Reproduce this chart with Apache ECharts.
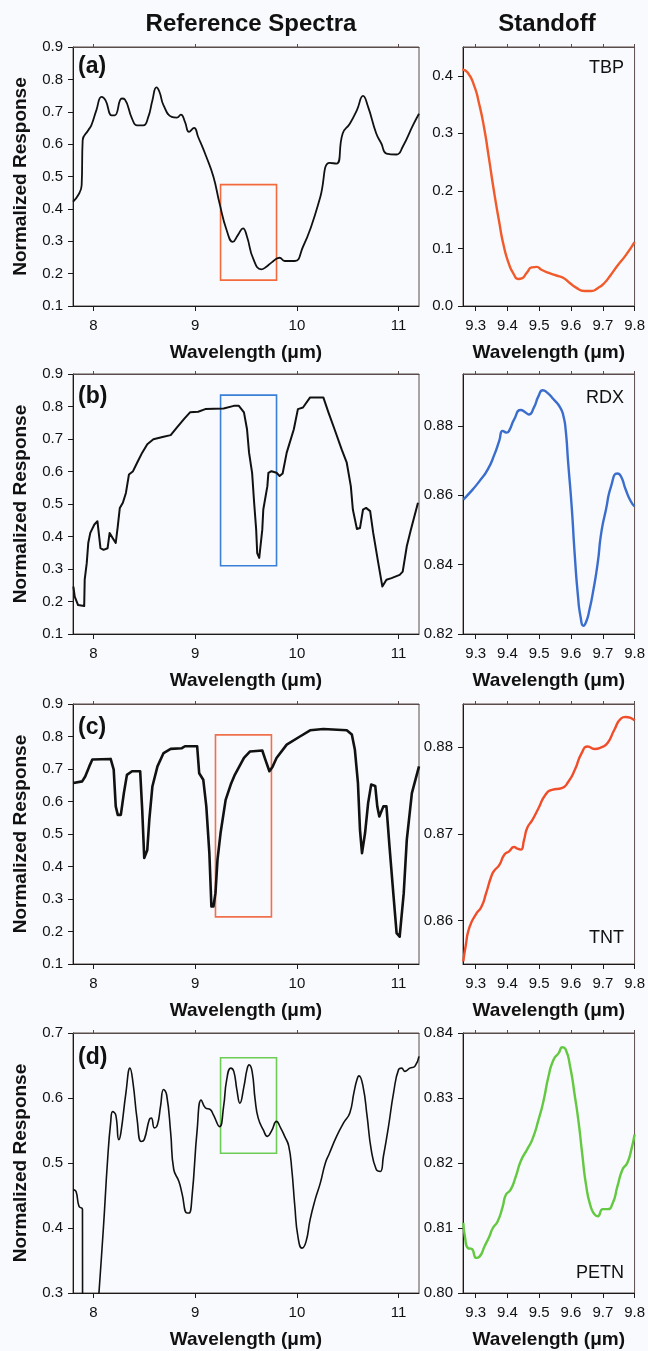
<!DOCTYPE html>
<html>
<head>
<meta charset="utf-8">
<script src="https://cdn.jsdelivr.net/npm/echarts@6/dist/echarts.min.js"></script>
<style>
html,body{margin:0;padding:0;background:#f9fafd;}
#chart{width:648px;height:1351px;}
</style>
</head>
<body>
<div id="chart"></div>
<script>
// ---------------- DATA ----------------
// Tick labels
const refWlTicks = [8, 9, 10, 11];
const standoffWlTicks = [9.3, 9.4, 9.5, 9.6, 9.7, 9.8];
const refYTicksABC = [0.1, 0.2, 0.3, 0.4, 0.5, 0.6, 0.7, 0.8, 0.9];
const refYTicksD = [0.3, 0.4, 0.5, 0.6, 0.7];
const tbpYTicks = [0.0, 0.1, 0.2, 0.3, 0.4];
const rdxYTicks = [0.82, 0.84, 0.86, 0.88];
const tntYTicks = [0.86, 0.87, 0.88];
const petnYTicks = [0.80, 0.81, 0.82, 0.83, 0.84];

// (a) TBP reference spectrum
const refA_x = [7.80,7.85,7.885,7.895,7.95,7.98,8.03,8.08,8.12,8.18,8.21,8.28,8.31,8.38,8.43,8.49,8.54,8.58,8.62,8.65,8.69,8.77,8.82,8.86,8.90,8.94,8.99,9.03,9.11,9.18,9.24,9.31,9.37,9.42,9.47,9.51,9.57,9.65,9.70,9.75,9.83,9.88,9.98,10.06,10.14,10.23,10.32,10.39,10.45,10.52,10.59,10.65,10.70,10.78,10.83,10.88,10.98,11.04,11.14,11.20];
const refA_y = [0.422,0.442,0.473,0.612,0.643,0.658,0.705,0.746,0.735,0.689,0.689,0.741,0.738,0.679,0.658,0.658,0.684,0.735,0.775,0.761,0.720,0.684,0.682,0.691,0.669,0.638,0.650,0.622,0.561,0.499,0.417,0.334,0.298,0.319,0.340,0.314,0.247,0.213,0.221,0.234,0.249,0.239,0.239,0.283,0.345,0.437,0.542,0.540,0.633,0.663,0.705,0.749,0.715,0.633,0.602,0.571,0.568,0.592,0.658,0.694];
// (a) TBP standoff
const tbp_x = [9.258,9.274,9.295,9.31,9.326,9.341,9.357,9.373,9.388,9.404,9.419,9.435,9.445,9.461,9.476,9.492,9.507,9.528,9.554,9.575,9.596,9.616,9.642,9.663,9.684,9.705,9.725,9.746,9.772,9.80];
const tbp_y = [0.411,0.406,0.383,0.353,0.311,0.259,0.201,0.149,0.105,0.074,0.056,0.047,0.048,0.058,0.067,0.068,0.063,0.058,0.053,0.049,0.040,0.032,0.026,0.026,0.031,0.040,0.054,0.070,0.088,0.111];

// (b) RDX reference spectrum
const refB_x = [7.804,7.817,7.85,7.91,7.915,7.935,7.95,7.97,8.01,8.04,8.055,8.07,8.10,8.14,8.16,8.19,8.22,8.24,8.26,8.29,8.32,8.35,8.39,8.43,8.48,8.53,8.59,8.69,8.76,8.82,8.89,8.95,9.03,9.10,9.28,9.38,9.43,9.48,9.51,9.53,9.56,9.58,9.60,9.61,9.63,9.66,9.67,9.71,9.72,9.75,9.80,9.83,9.86,9.90,9.97,10.01,10.06,10.13,10.26,10.31,10.37,10.44,10.49,10.53,10.55,10.59,10.62,10.65,10.68,10.72,10.75,10.80,10.84,10.88,10.93,11.01,11.04,11.08,11.12,11.19];
const refB_y = [0.246,0.215,0.189,0.186,0.267,0.318,0.380,0.411,0.437,0.447,0.444,0.364,0.359,0.364,0.411,0.395,0.380,0.431,0.488,0.504,0.534,0.591,0.601,0.627,0.658,0.684,0.699,0.707,0.712,0.735,0.761,0.782,0.784,0.792,0.794,0.802,0.802,0.782,0.730,0.658,0.596,0.504,0.421,0.349,0.334,0.421,0.483,0.555,0.596,0.601,0.596,0.586,0.594,0.658,0.730,0.792,0.797,0.828,0.828,0.782,0.730,0.668,0.627,0.555,0.483,0.423,0.426,0.483,0.488,0.478,0.411,0.318,0.246,0.267,0.272,0.282,0.292,0.370,0.421,0.504];
// (b) RDX standoff
const rdx_x = [9.261,9.281,9.312,9.338,9.359,9.374,9.385,9.397,9.405,9.421,9.442,9.457,9.467,9.483,9.498,9.511,9.524,9.545,9.566,9.576,9.583,9.591,9.602,9.612,9.622,9.630,9.639,9.648,9.658,9.669,9.684,9.695,9.710,9.726,9.746,9.757,9.772,9.788,9.80];
const rdx_y = [0.8588,0.8607,0.8641,0.8675,0.8718,0.8757,0.8786,0.8781,0.8786,0.8819,0.8846,0.8839,0.8833,0.8853,0.8887,0.8903,0.8897,0.8877,0.8853,0.8829,0.8790,0.8694,0.8568,0.8424,0.8308,0.8250,0.8224,0.8236,0.8270,0.8320,0.8405,0.8491,0.8559,0.8626,0.8663,0.8655,0.8617,0.8583,0.8568];

// (c) TNT reference spectrum
const refC_x = [7.804,7.89,7.92,7.96,7.99,8.17,8.20,8.22,8.24,8.27,8.30,8.33,8.38,8.46,8.48,8.50,8.53,8.55,8.58,8.63,8.69,8.76,8.87,8.90,9.02,9.04,9.08,9.11,9.14,9.16,9.18,9.20,9.22,9.25,9.30,9.35,9.39,9.48,9.54,9.66,9.69,9.73,9.76,9.80,9.90,10.03,10.13,10.26,10.49,10.54,10.57,10.60,10.62,10.64,10.67,10.70,10.73,10.77,10.79,10.81,10.85,10.88,10.91,10.95,10.98,11.01,11.05,11.08,11.13,11.20];
const refC_y = [0.657,0.662,0.677,0.708,0.729,0.731,0.698,0.585,0.559,0.559,0.626,0.682,0.693,0.693,0.575,0.426,0.451,0.544,0.646,0.708,0.749,0.762,0.764,0.770,0.770,0.687,0.667,0.585,0.441,0.277,0.277,0.318,0.421,0.503,0.605,0.652,0.682,0.734,0.754,0.757,0.729,0.693,0.706,0.734,0.775,0.800,0.819,0.823,0.819,0.806,0.759,0.657,0.513,0.441,0.503,0.595,0.652,0.648,0.585,0.554,0.585,0.585,0.462,0.308,0.195,0.184,0.318,0.482,0.626,0.708];
// (c) TNT standoff
const tnt_x = [9.261,9.268,9.281,9.302,9.318,9.333,9.349,9.359,9.374,9.39,9.405,9.421,9.431,9.442,9.452,9.462,9.478,9.498,9.519,9.540,9.571,9.591,9.612,9.633,9.653,9.674,9.695,9.715,9.736,9.757,9.772,9.80];
const tnt_y = [0.8553,0.8570,0.8593,0.8608,0.8616,0.8632,0.8651,0.8658,0.8664,0.8676,0.8680,0.8685,0.8683,0.8682,0.8693,0.8707,0.8716,0.8730,0.8745,0.8751,0.8753,0.8760,0.8774,0.8793,0.8801,0.8798,0.8800,0.8805,0.8820,0.8833,0.8835,0.8831];

// (d) PETN reference spectrum (drops below the axis floor near 7.9-8.05)
const refD_x = [7.804,7.83,7.86,7.893,7.895,7.99,8.055,8.10,8.14,8.17,8.19,8.22,8.25,8.27,8.32,8.36,8.39,8.43,8.47,8.50,8.55,8.57,8.60,8.63,8.66,8.69,8.72,8.76,8.79,8.84,8.87,8.92,8.94,8.97,9.02,9.06,9.10,9.15,9.18,9.24,9.28,9.31,9.35,9.38,9.41,9.44,9.48,9.51,9.53,9.56,9.59,9.62,9.67,9.71,9.75,9.80,9.84,9.88,9.92,9.95,9.98,10.01,10.05,10.09,10.13,10.18,10.23,10.28,10.32,10.39,10.46,10.52,10.56,10.59,10.61,10.65,10.69,10.73,10.78,10.82,10.85,10.90,10.95,11.00,11.03,11.06,11.11,11.16,11.20];
const refD_y = [0.459,0.456,0.433,0.429,0.15,0.15,0.300,0.403,0.505,0.562,0.579,0.574,0.536,0.546,0.608,0.646,0.623,0.567,0.533,0.536,0.567,0.569,0.554,0.559,0.587,0.613,0.605,0.546,0.490,0.472,0.454,0.423,0.423,0.449,0.551,0.597,0.585,0.582,0.574,0.556,0.587,0.628,0.646,0.641,0.613,0.592,0.618,0.644,0.651,0.641,0.597,0.569,0.551,0.541,0.549,0.564,0.554,0.541,0.526,0.490,0.433,0.387,0.369,0.379,0.413,0.444,0.469,0.500,0.515,0.541,0.562,0.577,0.608,0.628,0.634,0.618,0.572,0.521,0.490,0.487,0.510,0.556,0.608,0.644,0.646,0.641,0.646,0.649,0.664];
// (d) PETN standoff
const petn_x = [9.261,9.266,9.276,9.287,9.302,9.312,9.328,9.343,9.354,9.369,9.385,9.395,9.410,9.426,9.442,9.462,9.478,9.498,9.514,9.529,9.545,9.561,9.573,9.583,9.597,9.612,9.624,9.635,9.648,9.662,9.674,9.684,9.700,9.715,9.731,9.746,9.762,9.777,9.790,9.80];
const petn_y = [0.8108,0.8087,0.8069,0.8068,0.8054,0.8056,0.8072,0.8087,0.8100,0.8110,0.8133,0.8151,0.8159,0.8179,0.8203,0.8221,0.8236,0.8267,0.8297,0.8333,0.8359,0.8369,0.8378,0.8375,0.8349,0.8303,0.8262,0.8215,0.8164,0.8133,0.8121,0.8118,0.8129,0.8129,0.8138,0.8164,0.8190,0.8200,0.8221,0.8244];

// Zoom boxes on reference spectra: [xStart, xEnd, yLow, yHigh]
const boxA = [9.25, 9.80, 0.18, 0.475];
const boxB = [9.25, 9.80, 0.31, 0.835];
const boxC = [9.20, 9.75, 0.245, 0.805];
const boxD = [9.25, 9.80, 0.515, 0.662];

const panelLabels = ['(a)', '(b)', '(c)', '(d)'];
const compoundNames = ['TBP', 'RDX', 'TNT', 'PETN'];
const columnTitles = ['Reference Spectra', 'Standoff'];

// ---------------- BUILD ----------------
const zip = (xs, ys) => xs.map((x, i) => [x, ys[i]]);
const FONT = 'Liberation Sans, Arial, Helvetica, sans-serif';
const BG = '#f9fafd';

const panels = [
  {top: 47, h: 259, refX: refA_x, refY: refA_y, refW: 1.8, yMin: 0.1, yMax: 0.9, yTicks: refYTicksABC, dec: 1,
   sX: tbp_x, sY: tbp_y, sMin: 0, sMax: 0.45, sTicks: tbpYTicks, sDec: 1, color: '#f15a2b', box: boxA, boxColor: '#f36b3c',
   labY: 55, nameY: 59},
  {top: 374, h: 260, refX: refB_x, refY: refB_y, refW: 2, yMin: 0.1, yMax: 0.9, yTicks: refYTicksABC, dec: 1,
   sX: rdx_x, sY: rdx_y, sMin: 0.82, sMax: 0.895, sTicks: rdxYTicks, sDec: 2, color: '#3a6dcc', box: boxB, boxColor: '#3a7fd8',
   labY: 385, nameY: 389},
  {top: 704, h: 260, refX: refC_x, refY: refC_y, refW: 2.6, yMin: 0.1, yMax: 0.9, yTicks: refYTicksABC, dec: 1,
   sX: tnt_x, sY: tnt_y, sMin: 0.855, sMax: 0.885, sTicks: tntYTicks, sDec: 2, color: '#f04e2a', box: boxC, boxColor: '#f0704e',
   labY: 716, nameY: 929},
  {top: 1033, h: 260, refX: refD_x, refY: refD_y, refW: 1.6, yMin: 0.3, yMax: 0.7, yTicks: refYTicksD, dec: 1,
   sX: petn_x, sY: petn_y, sMin: 0.80, sMax: 0.84, sTicks: petnYTicks, sDec: 2, color: '#62c940', box: boxD, boxColor: '#6dcc55',
   labY: 1046, nameY: 1264}
];

const grids = [], xAxes = [], yAxes = [], series = [], graphics = [];
const AXIS_COLOR = '#1a1a1a';
const FRAME_COLOR = '#5a4c4a';

function addPanel(left, width, top, h, xMin, xMax, xTicks, yMin, yMax, yTicks, dec, yName) {
  const gi = grids.length;
  grids.push({left: left, top: top, width: width, height: h, show: true, borderColor: FRAME_COLOR, borderWidth: 1, backgroundColor: 'transparent'});
  const lab = {color: '#111', fontSize: 15, fontFamily: FONT};
  xAxes.push({type: 'value', gridIndex: gi, position: 'bottom', min: xMin, max: xMax,
    axisLine: {show: true, onZero: false, lineStyle: {color: AXIS_COLOR, width: 1}},
    axisTick: {show: true, inside: false, length: 5, customValues: xTicks, lineStyle: {color: AXIS_COLOR}},
    axisLabel: Object.assign({customValues: xTicks, margin: 12, formatter: v => (xTicks[0] < 9 ? String(v) : v.toFixed(1))}, lab),
    splitLine: {show: false},
    name: 'Wavelength (\u03bcm)', nameLocation: 'middle', nameGap: 37,
    nameTextStyle: {fontSize: 19, fontWeight: 'bold', color: '#111', fontFamily: FONT}});
  xAxes.push({type: 'value', gridIndex: gi, position: 'top', min: xMin, max: xMax,
    axisLine: {show: true, onZero: false, lineStyle: {color: FRAME_COLOR, width: 1}},
    axisTick: {show: true, inside: false, length: 3, customValues: xTicks, lineStyle: {color: FRAME_COLOR}},
    axisLabel: {show: false}, splitLine: {show: false}});
  yAxes.push({type: 'value', gridIndex: gi, position: 'left', min: yMin, max: yMax,
    axisLine: {show: true, onZero: false, lineStyle: {color: AXIS_COLOR, width: 1}},
    axisTick: {show: true, inside: false, length: 5, customValues: yTicks, lineStyle: {color: AXIS_COLOR}},
    axisLabel: Object.assign({customValues: yTicks, margin: 10, formatter: v => v.toFixed(dec)}, lab),
    splitLine: {show: false},
    name: yName || '', nameLocation: 'middle', nameGap: 43, nameRotate: 90,
    nameTextStyle: {fontSize: 19, fontWeight: 'bold', color: '#111', fontFamily: FONT}});
  return gi;
}

panels.forEach((p, k) => {
  const gL = addPanel(73, 346, p.top, p.h, 7.8, 11.2, refWlTicks, p.yMin, p.yMax, p.yTicks, p.dec, 'Normalized Response');
  series.push({type: 'line', xAxisIndex: 2 * gL, yAxisIndex: gL, data: zip(p.refX, p.refY), showSymbol: false, symbol: 'none',
    smooth: (k === 1 || k === 2) ? false : 0.5, clip: true,
    lineStyle: {color: '#111', width: p.refW, join: 'round'}, z: 3,
    markArea: {silent: true, itemStyle: {color: 'rgba(0,0,0,0)', borderColor: p.boxColor, borderWidth: 1.6},
      data: [[{coord: [p.box[0], p.box[3]]}, {coord: [p.box[1], p.box[2]]}]]}});
  const gR = addPanel(463, 174, p.top, p.h, 9.26, 9.8, standoffWlTicks, p.sMin, p.sMax, p.sTicks, p.sDec, '');
  series.push({type: 'line', xAxisIndex: 2 * gR, yAxisIndex: gR, data: zip(p.sX, p.sY), showSymbol: false, symbol: 'none',
    smooth: 0.6, clip: true, lineStyle: {color: p.color, width: 2.4, join: 'round'}, z: 3});
  graphics.push({type: 'text', x: 78, y: p.labY, style: {text: panelLabels[k], font: 'bold 23px ' + FONT, fill: '#111'}});
  graphics.push({type: 'text', x: 624, y: p.nameY, style: {text: compoundNames[k], font: '18px ' + FONT, fill: '#111', align: 'right'}});
});

graphics.push({type: 'text', x: 251, y: 12, style: {text: columnTitles[0], font: 'bold 24px ' + FONT, fill: '#111', align: 'center'}});
graphics.push({type: 'text', x: 547, y: 12, style: {text: columnTitles[1], font: 'bold 24px ' + FONT, fill: '#111', align: 'center'}});

const chart = echarts.init(document.getElementById('chart'), null, {renderer: 'canvas'});
chart.setOption({
  animation: false,
  backgroundColor: BG,
  grid: grids,
  xAxis: xAxes,
  yAxis: yAxes,
  series: series,
  graphic: graphics
});
</script>
</body>
</html>
